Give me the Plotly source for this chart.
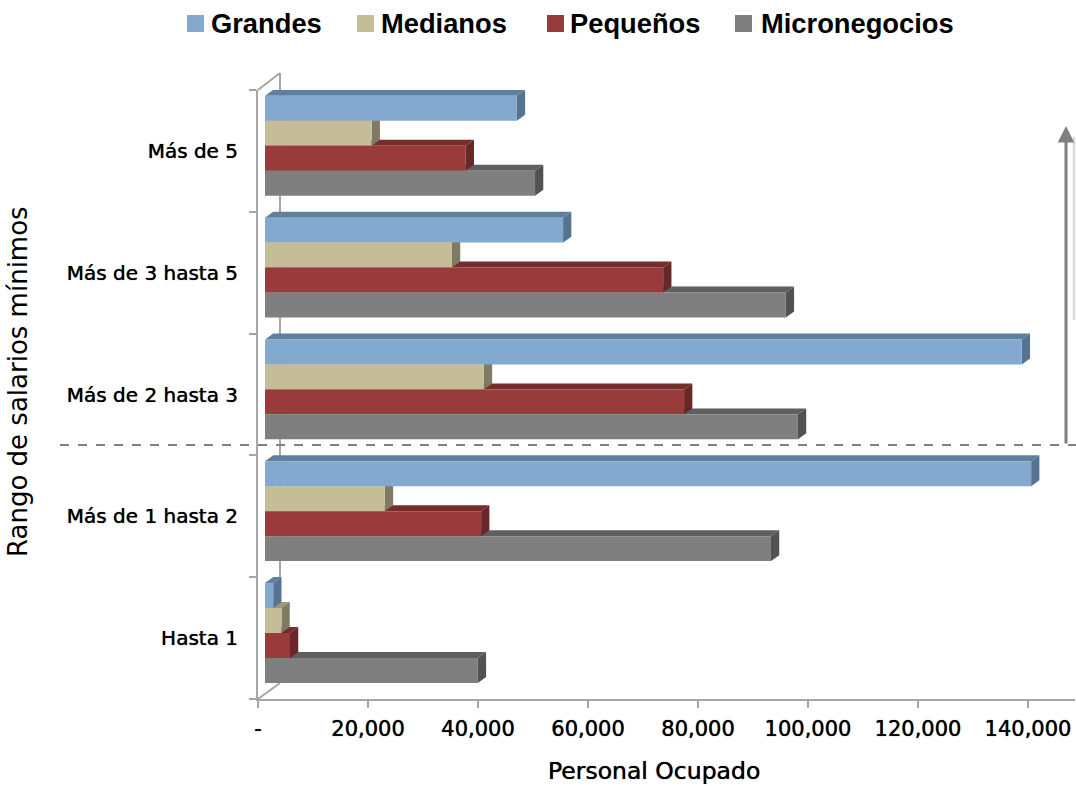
import plotly.graph_objects as go

categories = ["Hasta 1", "Más de 1 hasta 2", "Más de 2 hasta 3", "Más de 3 hasta 5", "Más de 5"]
grandes = [1500, 139300, 137600, 54200, 45800]
medianos = [3000, 21800, 39800, 34000, 19400]
pequenos = [4550, 39300, 76200, 72400, 36500]
micronegocios = [38700, 92000, 96900, 94700, 49100]
x_ticks = [0, 20000, 40000, 60000, 80000, 100000, 120000, 140000]
x_labels = ["-", "20,000", "40,000", "60,000", "80,000", "100,000", "120,000", "140,000"]

W, H = 1076, 786
L, R, T, B = 258, 1, 90, 87
PW, PH = W - L - R, H - T - B
FONT = "DejaVu Sans"
LEGEND_FONT = "Liberation Sans"
TXT = "#000000"
AX = "#a6a6a6"
SHADOW = "0 0 0.8px #000000"
X_MAX = PW / 5.5 * 1000
X0 = 1270      # bars start in front of the axis wall
DX, DY = 1500, 0.049
BAR_H = 0.205

# name, values, front, top face, side face, offset (bottom to top)
series = [
    ("Micronegocios", micronegocios, "#7f7f7f", "#5f5f5f", "#525252", -0.368),
    ("Pequeños", pequenos, "#993b3b", "#772c2c", "#682828", -0.163),
    ("Medianos", medianos, "#c4bd97", "#9c9678", "#7f7b62", 0.042),
    ("Grandes", grandes, "#84a9cf", "#5f7f9f", "#567490", 0.247),
]
legend_x = {"Grandes": 187, "Medianos": 357, "Pequeños": 547, "Micronegocios": 735}
legend_text_x = {"Grandes": 209, "Medianos": 379, "Pequeños": 568, "Micronegocios": 759}


def pxx(v):
    return (v - L) / PW


def pxy(v):
    return (H - B - v) / PH


shapes = []
# back wall and floor edges of the 3D box
for x0, y0, x1, y1 in [(258, 90, 280, 73), (280, 73, 280, 683), (258, 699, 280, 683)]:
    shapes.append(dict(type="line", layer="below", xref="paper", yref="paper",
                       x0=pxx(x0), x1=pxx(x1), y0=pxy(y0), y1=pxy(y1),
                       line=dict(color=AX, width=2)))

# depth faces, computed from each bar's value
for name, vals, front, top, side, off in series:
    for i, v in enumerate(vals):
        xe = X0 + v
        yb, yt = i + off, i + off + BAR_H
        shapes.append(dict(type="path", layer="below", xref="x", yref="y", line=dict(width=0), fillcolor=top,
                           path=f"M{X0},{yt} L{X0 + DX},{yt + DY} L{xe + DX},{yt + DY} L{xe},{yt} Z"))
        shapes.append(dict(type="path", layer="below", xref="x", yref="y", line=dict(width=0), fillcolor=side,
                           path=f"M{xe},{yb} L{xe + DX},{yb + DY} L{xe + DX},{yt + DY} L{xe},{yt} Z"))

# dashed divider and light vertical stroke
shapes.append(dict(type="line", xref="paper", yref="paper", x0=pxx(60), x1=pxx(1076), y0=pxy(445), y1=pxy(445),
                   line=dict(color="#7f7f7f", width=2, dash="dash")))
shapes.append(dict(type="line", xref="paper", yref="paper", x0=pxx(1074), x1=pxx(1074), y0=pxy(137), y1=pxy(320),
                   line=dict(color="#d9d9d9", width=2.5)))

fig = go.Figure()
for name, vals, front, top, side, off in reversed(series):
    fig.add_trace(go.Bar(name=name, y=categories, x=vals, base=X0, orientation="h",
                         width=BAR_H, offset=off, showlegend=False,
                         marker=dict(color=front, line=dict(width=0))))

annotations = [
    dict(xref="paper", yref="paper", x=pxx(654), y=pxy(771), xanchor="center", yanchor="middle",
         text="Personal Ocupado", showarrow=False,
         font=dict(family=FONT, size=23.5, color=TXT, shadow=SHADOW)),
    dict(xref="paper", yref="paper", x=pxx(18), y=pxy(382), xanchor="center", yanchor="middle",
         text="Rango de salarios mínimos", textangle=-90, showarrow=False,
         font=dict(family=FONT, size=26, color=TXT)),
    dict(xref="paper", yref="paper", x=pxx(1066), y=pxy(126),
         ax=0, ay=319, text="", showarrow=True, arrowhead=2, arrowsize=1.1, arrowwidth=3, arrowcolor="#7f7f7f"),
]

# legend row
for name, vals, front, top, side, off in series:
    lx = legend_x[name]
    shapes.append(dict(type="rect", xref="paper", yref="paper", x0=pxx(lx), x1=pxx(lx + 17),
                       y0=pxy(15), y1=pxy(32), fillcolor=front, line=dict(width=0)))
    annotations.append(dict(xref="paper", yref="paper", x=pxx(legend_text_x[name]), y=pxy(24),
                            xanchor="left", yanchor="middle", text=name, showarrow=False,
                            font=dict(family=LEGEND_FONT, size=27.3, color=TXT, weight=700)))

fig.update_layout(
    width=W, height=H, margin=dict(l=L, r=R, t=T, b=B, autoexpand=False),
    paper_bgcolor="white", plot_bgcolor="white", barmode="overlay", showlegend=False,
    shapes=shapes, annotations=annotations,
    font=dict(family=FONT, color=TXT),
    xaxis=dict(range=[0, X_MAX], tickmode="array", tickvals=x_ticks, ticktext=x_labels,
               showgrid=False, zeroline=False, showline=True, linecolor=AX, linewidth=2,
               ticks="outside", ticklen=7, tickwidth=2, tickcolor=AX, ticklabelstandoff=3,
               tickfont=dict(family=FONT, size=21, color=TXT, shadow=SHADOW)),
    yaxis=dict(type="category", categoryorder="array", categoryarray=categories, range=[-0.5, 4.5],
               tickson="boundaries", showgrid=False, zeroline=False, showline=True, linecolor=AX, linewidth=2,
               ticks="outside", ticklen=7, tickwidth=2, tickcolor=AX, ticklabelstandoff=14,
               tickfont=dict(family=FONT, size=20, color=TXT, shadow=SHADOW)),
)

fig.write_html("out.html", config=dict(displayModeBar=False),
               post_script="document.body.style.margin='0';")
